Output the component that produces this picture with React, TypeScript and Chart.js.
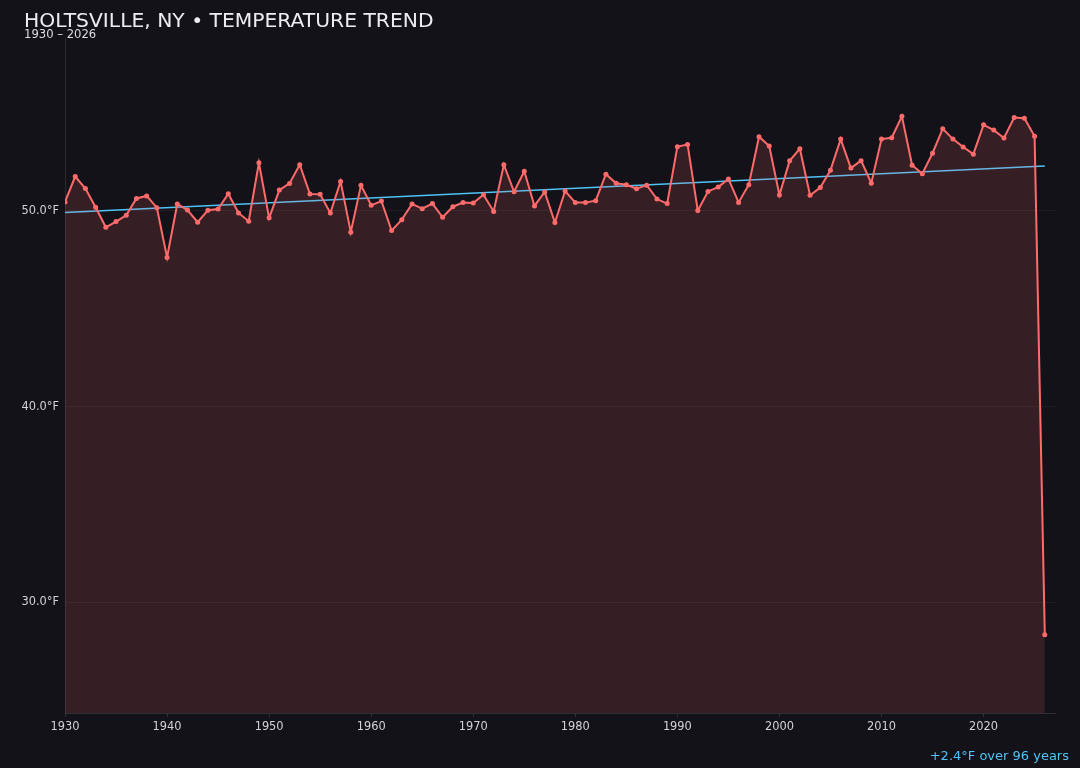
import React, { useEffect, useRef } from "react";
import { Chart, registerables } from "chart.js";

Chart.register(...registerables);

// Annual mean temperature (°F), Holtsville NY
const years: number[] = [];
for (let y = 1930; y <= 2026; y++) years.push(y);

const temps: number[] = [
  50.44, 51.74, 51.13, 50.17, 49.15, 49.44, 49.76, 50.62, 50.75, 50.15, // 1930s
  47.61, 50.34, 50.03, 49.41, 50.02, 50.08, 50.86, 49.88, 49.46, 52.44, // 1940s
  49.63, 51.05, 51.39, 52.34, 50.85, 50.83, 49.88, 51.49, 48.9, 51.29, // 1950s
  50.27, 50.49, 48.98, 49.54, 50.34, 50.1, 50.36, 49.66, 50.2, 50.41, // 1960s
  50.39, 50.81, 49.96, 52.34, 50.96, 52.01, 50.24, 50.95, 49.39, 51.0, // 1970s
  50.41, 50.41, 50.51, 51.86, 51.4, 51.32, 51.12, 51.3, 50.59, 50.36, // 1980s
  53.26, 53.38, 50.0, 50.98, 51.2, 51.62, 50.42, 51.32, 53.77, 53.3, // 1990s
  50.8, 52.54, 53.16, 50.78, 51.18, 52.06, 53.65, 52.17, 52.55, 51.4, // 2000s
  53.65, 53.72, 54.81, 52.32, 51.88, 52.93, 54.18, 53.65, 53.25, 52.88, // 2010s
  54.38, 54.11, 53.71, 54.75, 54.72, 53.79, 28.36, // 2020s
];

const yTicks = [30, 40, 50];
const xTicks = [1930, 1940, 1950, 1960, 1970, 1980, 1990, 2000, 2010, 2020];

const BG = "#131218";
const LINE = "#ff6b6b";
const TREND = "#4fc3f7";

function linearFit(xs: number[], ys: number[]) {
  const n = xs.length;
  const mx = xs.reduce((a, b) => a + b, 0) / n;
  const my = ys.reduce((a, b) => a + b, 0) / n;
  let sxy = 0;
  let sxx = 0;
  for (let i = 0; i < n; i++) {
    sxy += (xs[i] - mx) * (ys[i] - my);
    sxx += (xs[i] - mx) * (xs[i] - mx);
  }
  const slope = sxy / sxx;
  return { slope, intercept: my - slope * mx };
}

const fit = linearFit(years, temps);
const firstYear = years[0];
const lastYear = years[years.length - 1];
const span = lastYear - firstYear;
const change = fit.slope * span;

const TempChart: React.FC = () => {
  const canvasRef = useRef<HTMLCanvasElement | null>(null);
  const chartRef = useRef<Chart | null>(null);

  useEffect(() => {
    if (chartRef.current) chartRef.current.destroy();
    if (!canvasRef.current) return;

    Chart.defaults.font.family = "'DejaVu Sans', sans-serif";

    const yMin = Math.min(...temps) - 4;
    const yMax = Math.max(...temps) + 4;

    chartRef.current = new Chart(canvasRef.current, {
      type: "line",
      data: {
        datasets: [
          {
            label: "Temperature",
            data: years.map((y, i) => ({ x: y, y: temps[i] })),
            borderColor: LINE,
            backgroundColor: "rgba(255,107,107,0.15)",
            borderWidth: 2,
            pointRadius: 2.5,
            pointBackgroundColor: LINE,
            pointBorderWidth: 0,
            tension: 0,
            fill: "start",
          },
          {
            label: "Trend",
            data: [
              { x: firstYear, y: fit.intercept + fit.slope * firstYear },
              { x: lastYear, y: fit.intercept + fit.slope * lastYear },
            ],
            borderColor: TREND,
            borderWidth: 1.5,
            pointRadius: 0,
            fill: false,
          },
        ],
      },
      options: {
        animation: false,
        responsive: true,
        maintainAspectRatio: false,
        layout: { padding: { left: 0, right: 25, top: 38, bottom: 25 } },
        plugins: {
          legend: { display: false },
          tooltip: { enabled: false },
        },
        scales: {
          x: {
            type: "linear",
            min: firstYear,
            max: lastYear + 1,
            afterBuildTicks: (axis) => {
              axis.ticks = xTicks.map((v) => ({ value: v }));
            },
            afterFit: (scale) => {
              scale.height = 30;
            },
            ticks: {
              color: "#d2d2da",
              font: { size: 11.4 },
              padding: 3,
              maxRotation: 0,
              callback: (v) => String(v),
            },
            grid: {
              drawOnChartArea: false,
              drawTicks: true,
              tickLength: 4,
              color: "rgba(255,255,255,0.12)",
            },
            border: { color: "rgba(255,255,255,0.12)" },
          },
          y: {
            min: yMin,
            max: yMax,
            afterBuildTicks: (axis) => {
              axis.ticks = yTicks.map((v) => ({ value: v }));
            },
            afterFit: (scale) => {
              scale.width = 65;
            },
            ticks: {
              color: "#d2d2da",
              font: { size: 11.4 },
              padding: 6,
              callback: (v) => Number(v).toFixed(1) + "°F",
            },
            grid: {
              drawTicks: false,
              color: "rgba(255,255,255,0.05)",
            },
            border: { color: "rgba(255,255,255,0.1)" },
          },
        },
      },
    });

    return () => {
      if (chartRef.current) {
        chartRef.current.destroy();
        chartRef.current = null;
      }
    };
  }, []);

  return <canvas ref={canvasRef} />;
};

export default function App() {
  useEffect(() => {
    document.body.style.margin = "0";
    document.body.style.background = BG;
  }, []);

  return (
    <div
      style={{
        position: "relative",
        width: 1080,
        height: 768,
        background: BG,
        fontFamily: "'DejaVu Sans', sans-serif",
        overflow: "hidden",
      }}
    >
      <div style={{ position: "absolute", inset: 0 }}>
        <TempChart />
      </div>
      <div
        style={{
          position: "absolute",
          left: 24,
          top: 10.3,
          fontSize: 20.3,
          lineHeight: "20.3px",
          color: "#ececf1",
          whiteSpace: "nowrap",
        }}
      >
        HOLTSVILLE, NY • TEMPERATURE TREND
      </div>
      <div
        style={{
          position: "absolute",
          left: 24,
          top: 28.9,
          fontSize: 11.6,
          lineHeight: "11.6px",
          color: "#dcdce4",
          whiteSpace: "nowrap",
        }}
      >
        {firstYear} – {lastYear}
      </div>
      <div
        style={{
          position: "absolute",
          right: 11,
          top: 749.3,
          fontSize: 13,
          lineHeight: "13px",
          color: TREND,
          whiteSpace: "nowrap",
        }}
      >
        {(change >= 0 ? "+" : "") + change.toFixed(1)}°F over {span} years
      </div>
    </div>
  );
}
